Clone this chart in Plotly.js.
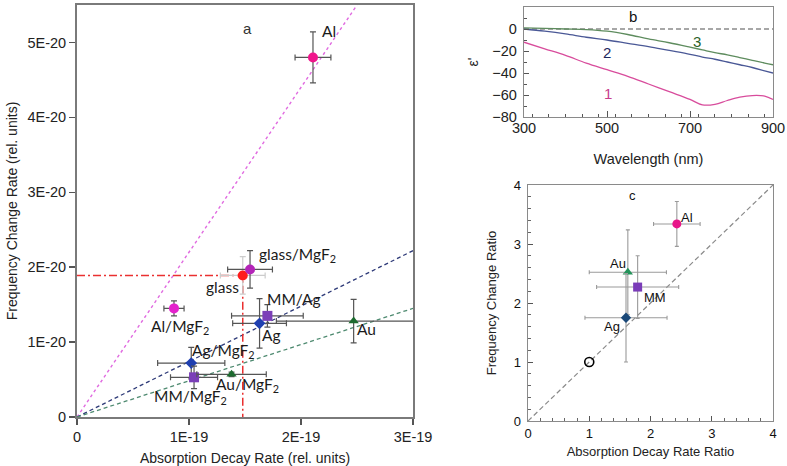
<!DOCTYPE html>
<html><head><meta charset="utf-8">
<script src="https://cdn.plot.ly/plotly-3.0.1.min.js"></script>
<style>html,body{margin:0;padding:0;background:#fff}#chart{width:787px;height:466px}</style>
</head><body><div id="chart"></div>
<script>
// ---------- Panel a data ----------
const aLabels = ['Al', 'glass/MgF<sub>2</sub>', 'glass', 'Al/MgF<sub>2</sub>', 'MM/Ag', 'Ag', 'Au', 'Ag/MgF<sub>2</sub>', 'MM/MgF<sub>2</sub>', 'Au/MgF<sub>2</sub>'];
const aDecay = [2.107e-19, 1.545e-19, 1.48e-19, 0.866e-19, 1.70e-19, 1.63e-19, 2.47e-19, 1.02e-19, 1.045e-19, 1.38e-19];
const aFreq = [4.80e-20, 1.97e-20, 1.89e-20, 1.45e-20, 1.35e-20, 1.25e-20, 1.28e-20, 0.72e-20, 0.53e-20, 0.57e-20];
const aDecayErr = [0.16e-19, 0.20e-19, 0.20e-19, 0.09e-19, 0.32e-19, 0.24e-19, 0.69e-19, 0.30e-19, 0.21e-19, 0.31e-19];
const aFreqErr = [0.34e-20, 0.25e-20, 0.25e-20, 0.10e-20, 0.15e-20, 0.33e-20, 0.29e-20, 0.21e-20, 0.15e-20, 0.03e-20];
const aXTickVals = [0, 1e-19, 2e-19, 3e-19];
const aXTickText = ['0', '1E-19', '2E-19', '3E-19'];
const aYTickVals = [0, 1e-20, 2e-20, 3e-20, 4e-20, 5e-20];
const aYTickText = ['0', '1E-20', '2E-20', '3E-20', '4E-20', '5E-20'];
// fit lines through origin (end points)
const fitAlX = [0, 2.5e-19], fitAlY = [0, 5.5e-20];
const fitAgX = [0, 3e-19], fitAgY = [0, 2.22e-20];
const fitAuX = [0, 3e-19], fitAuY = [0, 1.45e-20];

// ---------- Panel b data ----------
const wl = [300, 350, 400, 450, 500, 550, 600, 650, 700, 730, 760, 790, 820, 850, 880, 900];
const eps1 = [-12, -18, -24, -31, -37, -43, -50, -57, -64, -69, -68.5, -65, -62, -60.5, -61, -64];
const eps2 = [0, -2, -4.5, -7.5, -10, -13, -16, -19.5, -23, -25.5, -27.5, -30, -32.5, -35, -38, -40];
const eps3 = [1, 0.5, 0, -0.5, -2, -5, -9, -12.5, -16.5, -19, -21.5, -23.5, -26, -28.5, -31, -32.5];
const zeroX = [300, 900], zeroY = [0, 0];

// ---------- Panel c data ----------
const cLabels = ['Al', 'Au', 'MM', 'Ag', 'glass'];
const cDecayRatio = [2.43, 1.63, 1.79, 1.60, 1.0];
const cFreqRatio = [3.34, 2.52, 2.27, 1.75, 1.0];
const cDecayErr = [0.38, 0.63, 0.67, 0.67, 0];
const cFreqErr = [0.38, 0.72, 0.53, 0.75, 0];
const diagX = [0, 4], diagY = [0, 4];

// ---------- styles ----------
const aColors = ['#f0168c', '#b424b8', '#ff1c1c', '#e422cc', '#7b3fb8', '#1f3fb0', '#1d6b2f', '#1f3fb0', '#7b3fb8', '#1d6b2f'];
const aSymbols = ['circle', 'circle', 'circle', 'circle', 'square', 'diamond', 'triangle-up', 'diamond', 'square', 'triangle-up'];
const aSizes = [10, 10, 10, 10, 10, 9, 9, 9, 10, 9];
const aErrColors = ['#555', '#555', '#cccccc', '#555', '#555', '#555', '#555', '#555', '#555', '#555'];
const aLabelShift = [[8, 26, 'left'], [8, 14, 'left'], [-20, -12, 'center'], [6, -19, 'center'], [26, 17, 'center'],
  [12, -12, 'center'], [13, -8, 'center'], [32, 12, 'center'], [-4, -20, 'center'], [16, -11, 'center']];
const cColors = ['#e8168a', '#23935a', '#7a3cb8', '#1a4878', '#000'];
const cSymbols = ['circle', 'triangle-up', 'square', 'diamond', 'circle-open'];
const cSizes = [9, 9, 9, 8, 9];
const cLabelShift = [[10, 6], [-10, 9], [17, -10], [-14, -9]];

const traces = [];
// panel a lines
traces.push({x: fitAlX, y: fitAlY, xaxis: 'x', yaxis: 'y', mode: 'lines', line: {color: '#e06ae0', width: 1.4, dash: '3px,3px'}, hoverinfo: 'skip'});
traces.push({x: fitAgX, y: fitAgY, xaxis: 'x', yaxis: 'y', mode: 'lines', line: {color: '#2e3a78', width: 1.3, dash: '4px,3px'}, hoverinfo: 'skip'});
traces.push({x: fitAuX, y: fitAuY, xaxis: 'x', yaxis: 'y', mode: 'lines', line: {color: '#4e8a70', width: 1.3, dash: '4px,3px'}, hoverinfo: 'skip'});
// glass reference dash-dot
traces.push({x: [0, aDecay[2], aDecay[2]], y: [aFreq[2], aFreq[2], 0], xaxis: 'x', yaxis: 'y', mode: 'lines',
  line: {color: '#ea3030', width: 1.5, dash: '8px,3px,2px,3px'}, hoverinfo: 'skip'});
// panel a points
const drawOrder = [2, 1, 0, 3, 4, 5, 6, 7, 8, 9];
drawOrder.forEach(i => {
  traces.push({
    x: [aDecay[i]], y: [aFreq[i]], xaxis: 'x', yaxis: 'y', mode: 'markers', name: aLabels[i],
    marker: {color: aColors[i], symbol: aSymbols[i], size: aSizes[i]},
    error_x: {type: 'data', array: [aDecayErr[i]], color: aErrColors[i], thickness: 1.2, width: 3},
    error_y: {type: 'data', array: [aFreqErr[i]], color: aErrColors[i], thickness: 1.2, width: 3}
  });
});
// panel b
traces.push({x: zeroX, y: zeroY, xaxis: 'x2', yaxis: 'y2', mode: 'lines', line: {color: '#8a8a8a', width: 1.3, dash: '5px,3px'}, hoverinfo: 'skip'});
traces.push({x: wl, y: eps1, xaxis: 'x2', yaxis: 'y2', mode: 'lines', line: {color: '#d84c9c', width: 1.3, shape: 'spline'}});
traces.push({x: wl, y: eps2, xaxis: 'x2', yaxis: 'y2', mode: 'lines', line: {color: '#4a5896', width: 1.3, shape: 'spline'}});
traces.push({x: wl, y: eps3, xaxis: 'x2', yaxis: 'y2', mode: 'lines', line: {color: '#5e8c5e', width: 1.3, shape: 'spline'}});
// panel c
traces.push({x: diagX, y: diagY, xaxis: 'x3', yaxis: 'y3', mode: 'lines', line: {color: '#8a8a8a', width: 1.2, dash: '5px,3px'}, hoverinfo: 'skip'});
cLabels.forEach((n, i) => {
  traces.push({
    x: [cDecayRatio[i]], y: [cFreqRatio[i]], xaxis: 'x3', yaxis: 'y3', mode: 'markers', name: n,
    marker: {color: cColors[i], symbol: cSymbols[i], size: cSizes[i], line: {width: i === 4 ? 1.6 : 0, color: '#000'}},
    error_x: {type: 'data', array: [cDecayErr[i]], color: '#9a9a9a', thickness: 1.1, width: 2, visible: cDecayErr[i] > 0},
    error_y: {type: 'data', array: [cFreqErr[i]], color: '#9a9a9a', thickness: 1.1, width: 2, visible: cFreqErr[i] > 0}
  });
});

const ann = [];
const labFont = {family: 'Lato, "Open Sans", sans-serif', size: 15.5, color: '#1a1a1a'};
aLabels.forEach((t, i) => {
  const s = aLabelShift[i];
  ann.push({x: aDecay[i], y: aFreq[i], xref: 'x', yref: 'y', text: t, showarrow: false, borderpad: 0,
    xshift: s[0], yshift: s[1], xanchor: s[2], yanchor: 'middle', font: labFont});
});
ann.push({x: 1.52e-19, y: 5.19e-20, xref: 'x', yref: 'y', text: 'a', showarrow: false, font: {family: 'Liberation Sans, Arial', size: 15, color: '#333'}});
// panel b labels
const bFont = {family: 'Liberation Sans, Arial', size: 15};
ann.push({x: 562, y: 11, xref: 'x2', yref: 'y2', text: 'b', showarrow: false, font: Object.assign({color: '#111'}, bFont)});
ann.push({x: 502, y: -59, xref: 'x2', yref: 'y2', text: '1', showarrow: false, font: Object.assign({color: '#c83c8c'}, bFont)});
ann.push({x: 500, y: -21, xref: 'x2', yref: 'y2', text: '2', showarrow: false, font: Object.assign({color: '#22285e'}, bFont)});
ann.push({x: 717, y: -11, xref: 'x2', yref: 'y2', text: '3', showarrow: false, font: Object.assign({color: '#2a622a'}, bFont)});
// panel c labels
const cFont = {family: 'Liberation Sans, Arial', size: 13, color: '#111'};
for (let i = 0; i < 4; i++) {
  ann.push({x: cDecayRatio[i], y: cFreqRatio[i], xref: 'x3', yref: 'y3', text: cLabels[i], showarrow: false,
    xshift: cLabelShift[i][0], yshift: cLabelShift[i][1], font: cFont});
}
ann.push({x: 1.71, y: 3.82, xref: 'x3', yref: 'y3', text: 'c', showarrow: false, font: cFont});

const W = 787, H = 466;
const fx = (a, b) => [a / W, b / W];
const fy = (top, bot) => [1 - bot / H, 1 - top / H];
const axisFont = {family: 'Liberation Sans, Arial', size: 14, color: '#222'};

const layout = {
  width: W, height: H, margin: {l: 0, r: 0, t: 0, b: 0}, showlegend: false,
  paper_bgcolor: '#fff', plot_bgcolor: '#fff',
  font: {family: 'Liberation Sans, Arial', color: '#222'},
  xaxis: {domain: fx(77, 413), range: [0, 3e-19], tickvals: aXTickVals, ticktext: aXTickText,
    showgrid: false, zeroline: false, showline: true, mirror: true, linecolor: '#7a7a7a', linewidth: 2,
    ticks: 'outside', ticklen: 6, tickwidth: 1.5, tickcolor: '#555', tickfont: {size: 14.5},
    title: {text: 'Absorption Decay Rate (rel. units)', font: axisFont, standoff: 10}, automargin: false, anchor: 'y'},
  yaxis: {domain: fy(5, 417), range: [0, 5.5e-20], tickvals: aYTickVals, ticktext: aYTickText,
    showgrid: false, zeroline: false, showline: true, mirror: true, linecolor: '#7a7a7a', linewidth: 2,
    ticks: 'outside', ticklen: 6, tickwidth: 1.5, tickcolor: '#555', tickfont: {size: 14.5},
    title: {text: 'Frequency Change Rate (rel. units)', font: axisFont, standoff: 6}, automargin: false, anchor: 'x'},
  xaxis2: {domain: fx(524, 773), range: [300, 900], tickvals: [300, 500, 700, 900],
    showgrid: false, zeroline: false, showline: true, mirror: true, linecolor: '#8a8a8a', linewidth: 1.3,
    ticks: 'inside', ticklen: 6, tickcolor: '#555', tickfont: {size: 14.5}, ticklabelstandoff: -3,
    minor: {dtick: 40, ticks: 'inside', ticklen: 3, tickcolor: '#555'},
    title: {text: 'Wavelength (nm)', font: {family: 'Liberation Sans, Arial', size: 14.5, color: '#222'}, standoff: 19}, automargin: false, anchor: 'y2'},
  yaxis2: {domain: fy(7, 117), range: [-80, 20], dtick: 20, tick0: 0,
    showgrid: false, zeroline: false, showline: true, mirror: true, linecolor: '#8a8a8a', linewidth: 1.3,
    ticks: 'inside', ticklen: 5, tickcolor: '#555', tickfont: {size: 14.5}, ticklabelstandoff: 3,
    minor: {dtick: 10, ticks: 'inside', ticklen: 3, tickcolor: '#555'},
    title: {text: "ε'", font: {family: 'Liberation Sans, Arial', size: 14, color: '#222'}, standoff: 10}, automargin: false, anchor: 'x2'},
  xaxis3: {domain: fx(528, 773), range: [0, 4], dtick: 1,
    showgrid: false, zeroline: false, showline: true, mirror: true, linecolor: '#8a8a8a', linewidth: 1.3,
    ticks: 'inside', ticklen: 5, tickcolor: '#555', tickfont: {size: 13, color: '#111'},
    minor: {dtick: 0.2, ticks: 'inside', ticklen: 3, tickcolor: '#666'},
    title: {text: 'Absorption Decay Rate Ratio', font: {family: 'Liberation Sans, Arial', size: 13, color: '#222'}, standoff: 7}, automargin: false, anchor: 'y3'},
  yaxis3: {domain: fy(185, 421), range: [0, 4], dtick: 1,
    showgrid: false, zeroline: false, showline: true, mirror: true, linecolor: '#8a8a8a', linewidth: 1.3,
    ticks: 'inside', ticklen: 5, tickcolor: '#555', tickfont: {size: 13, color: '#111'}, ticklabelstandoff: 3,
    minor: {dtick: 0.2, ticks: 'inside', ticklen: 3, tickcolor: '#666'},
    title: {text: 'Frequency Change Ratio', font: {family: 'Liberation Sans, Arial', size: 13, color: '#222'}, standoff: 14}, automargin: false, anchor: 'x3'},
  annotations: ann
};

Plotly.newPlot('chart', traces, layout, {staticPlot: true, displayModeBar: false});
</script></body></html>
